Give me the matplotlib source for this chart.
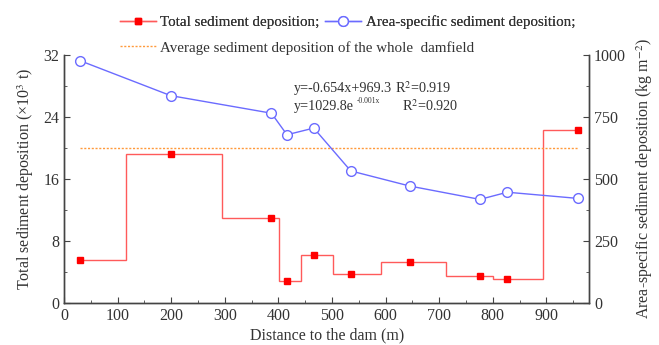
import matplotlib
matplotlib.use("Agg")
import matplotlib.pyplot as plt
from matplotlib.lines import Line2D
from matplotlib.ticker import MultipleLocator

plt.rcParams['font.family'] = ['Liberation Serif', 'DejaVu Serif']
plt.rcParams['mathtext.fontset'] = 'stix'

# Data
distance = [30, 199, 387, 416, 466, 535, 645, 776, 827, 959]
total_dep = [5.5, 19.2, 11.0, 2.8, 6.1, 3.7, 5.3, 3.5, 3.0, 22.3]
step_edges = [30, 115, 295, 401, 442, 502, 591, 712, 800, 894, 959]
area_dep = [977, 836, 765, 678, 705, 532, 471, 417, 446, 421]
avg_total = 20.0
avg_span = [30, 959]

red = '#ff0000'
red_line = '#ff5a5a'
blue = '#6b6bff'
orange = '#ff9a3c'
txt = '#333333'

fig = plt.figure(figsize=(6.59, 3.45), dpi=100)
ax = fig.add_axes([0.0971, 0.1226, 0.7971, 0.718])
ax2 = ax.twinx()

ax.stairs(total_dep, step_edges, baseline=None, color=red_line, lw=1.0)
ax.plot(distance, total_dep, ls='none', marker='s', ms=5, color=red)
ax.plot(avg_span, [avg_total, avg_total], ls=(0, (1.5, 1.2)), color=orange, lw=1.0)

ax2.plot(distance, area_dep, color=blue, lw=1.0, marker='o', ms=7,
         mfc='white', mec=blue, mew=1.0)

ax.set_xlim(0, 980)
ax.set_ylim(0, 32)
ax2.set_ylim(0, 1000)
ax.xaxis.set_major_locator(MultipleLocator(100))
ax.xaxis.set_minor_locator(MultipleLocator(50))
ax.yaxis.set_major_locator(MultipleLocator(8))
ax.yaxis.set_minor_locator(MultipleLocator(4))
ax2.yaxis.set_major_locator(MultipleLocator(250))
ax2.yaxis.set_minor_locator(MultipleLocator(125))

for a in (ax, ax2):
    a.spines['top'].set_visible(False)
    for s in a.spines.values():
        s.set_color('#444444')
        s.set_linewidth(1.0)
    a.tick_params(which='both', direction='in', colors='#444444', labelcolor=txt, labelsize=11.5)
    a.tick_params(which='major', length=4)
    a.tick_params(which='minor', length=2)
ax.tick_params(axis='y', which='both', right=False)
ax2.tick_params(axis='y', which='both', left=False)

ax.set_xlabel('Distance to the dam (m)', fontsize=11.5, color=txt, labelpad=3)
ax.set_ylabel('Total sediment deposition (×10$^{3}$ t)', fontsize=11.5, color=txt, labelpad=5)
ax2.set_ylabel('Area-specific sediment deposition (kg m$^{-2}$)', fontsize=11.5, color=txt, labelpad=6)

fs_ann = 10.2
ax.text(429, 27.7, 'y=-0.654x+969.3', fontsize=fs_ann, color=txt, va='center')
ax.text(617, 27.7, 'R$^{2}$=0.919', fontsize=fs_ann, color=txt, va='center')
ax.text(429, 25.4, 'y=1029.8e', fontsize=fs_ann, color=txt, va='center')
ax.text(546, 26.1, '-0.001x', fontsize=5.5, color=txt, va='center')
ax.text(630, 25.4, 'R$^{2}$=0.920', fontsize=fs_ann, color=txt, va='center')

h1 = Line2D([], [], color=red_line, lw=1.0, marker='s', ms=5, mfc=red, mec=red)
h2 = Line2D([], [], color=blue, lw=1.0, marker='o', ms=7, mfc='white', mec=blue)
h3 = Line2D([], [], color=orange, lw=1.0, ls=(0, (1.5, 1.2)))
leg1 = fig.legend([h1, h2], ['Total sediment deposition;', 'Area-specific sediment deposition;'],
                  loc='center left', bbox_to_anchor=(0.17, 0.935), ncol=2, frameon=False,
                  fontsize=10.8, handlelength=2.4, handletextpad=0.3, columnspacing=0.4,
                  borderpad=0, labelcolor=txt)
fig.add_artist(leg1)
fig.legend([h3], ['Average sediment deposition of the whole  damfield'],
           loc='center left', bbox_to_anchor=(0.17, 0.862), frameon=False,
           fontsize=10.8, handlelength=2.4, handletextpad=0.3, borderpad=0, labelcolor=txt)

fig.savefig('out.png', dpi=100)
